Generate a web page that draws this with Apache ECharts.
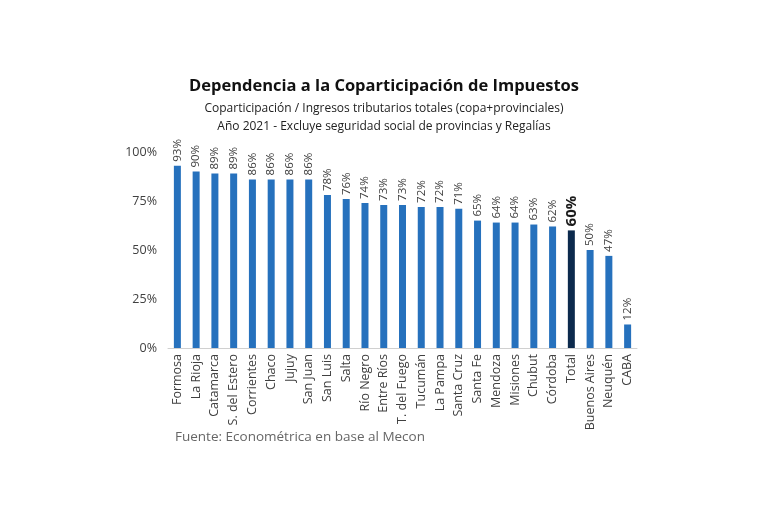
<!DOCTYPE html>
<html>
<head>
<meta charset="utf-8">
<script src="https://cdn.jsdelivr.net/npm/echarts@6/dist/echarts.min.js"></script>
<style>
  html, body { margin: 0; padding: 0; background: #fff; }
  #chart { width: 768px; height: 512px; }
</style>
</head>
<body>
<div id="chart"></div>
<script>
  const provinces = ["Formosa", "La Rioja", "Catamarca", "S. del Estero", "Corrientes", "Chaco", "Jujuy",
    "San Juan", "San Luis", "Salta", "Río Negro", "Entre Ríos", "T. del Fuego", "Tucumán", "La Pampa",
    "Santa Cruz", "Santa Fe", "Mendoza", "Misiones", "Chubut", "Córdoba", "Total", "Buenos Aires",
    "Neuquén", "CABA"];
  const shares = [93, 90, 89, 89, 86, 86, 86, 86, 78, 76, 74, 73, 73, 72, 72, 71, 65, 64, 64, 63, 62, 60, 50, 47, 12];
  const yTicks = [0, 25, 50, 75, 100];

  const font = "'Open Sans', 'Noto Sans', sans-serif";
  const barBlue = "#2671bd";
  const totalNavy = "#0c2a4d";

  const barData = shares.map((v, i) => {
    const isTotal = provinces[i] === "Total";
    return {
      value: v,
      itemStyle: { color: isTotal ? totalNavy : barBlue },
      label: isTotal
        ? { fontSize: 15, fontWeight: "bold", color: "#1a1a1a" }
        : {},
    };
  });

  const chart = echarts.init(document.getElementById("chart"));
  chart.setOption({
    animation: false,
    textStyle: { fontFamily: font },
    title: [
      {
        text: "Dependencia a la Coparticipación de Impuestos",
        left: "center",
        top: 73,
        textStyle: { fontSize: 16.5, fontWeight: "bold", color: "#111", fontFamily: font },
      },
      {
        text: "Coparticipación / Ingresos tributarios totales (copa+provinciales)\nAño 2021 - Excluye seguridad social de provincias y Regalías",
        left: "center",
        top: 95,
        textStyle: { fontSize: 12, fontWeight: "normal", color: "#222", lineHeight: 18, fontFamily: font },
      },
      {
        text: "Fuente: Econométrica en base al Mecon",
        left: 170,
        top: 425,
        textStyle: { fontSize: 13.5, fontWeight: "normal", color: "#666", fontFamily: font },
      },
    ],
    grid: { left: 168, right: 131, top: 152, bottom: 164 },
    xAxis: {
      type: "category",
      data: provinces,
      axisLine: { lineStyle: { color: "#d0d0d0" } },
      axisTick: { show: false },
      axisLabel: { rotate: 90, interval: 0, fontSize: 12.5, color: "#404040", margin: 6 },
    },
    yAxis: {
      type: "value",
      min: 0,
      max: 100,
      interval: 25,
      splitLine: { show: false },
      axisLine: { show: false },
      axisTick: { show: false },
      axisLabel: {
        fontSize: 12.5,
        color: "#404040",
        margin: 11,
        formatter: (v) => (yTicks.includes(v) ? v + "%" : ""),
      },
    },
    series: [{
      type: "bar",
      data: barData,
      barWidth: 7,
      label: {
        show: true,
        position: "top",
        rotate: 90,
        align: "left",
        verticalAlign: "middle",
        distance: 4,
        fontSize: 11.5,
        color: "#404040",
        formatter: (p) => p.value + "%",
      },
    }],
  });
</script>
</body>
</html>
